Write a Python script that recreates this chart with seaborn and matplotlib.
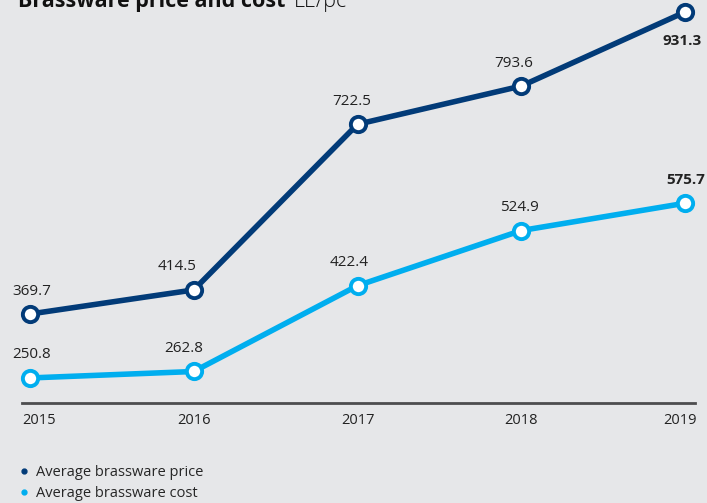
import matplotlib
matplotlib.use("Agg")
import matplotlib.pyplot as plt
import matplotlib.transforms as mtransforms
from matplotlib.lines import Line2D
import seaborn as sns
import pandas as pd

years = [2015, 2016, 2017, 2018, 2019]
price = [369.7, 414.5, 722.5, 793.6, 931.3]
cost = [250.8, 262.8, 422.4, 524.9, 575.7]
series_names = ["Average brassware price", "Average brassware cost"]
title_bold = "Brassware price and cost"
title_unit = "LE/pc"

# label nudges in pixels (style only)
price_dx = [2, -17, -6, -8, -3]
cost_dx = [2, -10, -8, -2, 1]

BG = "#e6e7e9"
C_PRICE = "#023b78"
C_COST = "#00aeef"

sns.set_style("white")
plt.rcParams["font.family"] = ["Open Sans", "DejaVu Sans"]

df = pd.DataFrame({
    "year": years * 2,
    "value": price + cost,
    "series": [series_names[0]] * len(years) + [series_names[1]] * len(years),
})

fig = plt.figure(figsize=(7.07, 5.03), dpi=100, facecolor=BG)
ax = fig.add_axes([22 / 707, 100 / 503, 673 / 707, 403 / 503])
ax.set_facecolor(BG)

sns.lineplot(data=df, x="year", y="value", hue="series",
             palette={series_names[0]: C_PRICE, series_names[1]: C_COST},
             linewidth=4, marker="o", markersize=11, markerfacecolor="white",
             markeredgewidth=2.8, legend=False, ax=ax, clip_on=False)
for line in ax.lines:
    line.set_markeredgecolor(line.get_color())
    line.set_clip_on(False)

px = 163.75
ax.set_xlim(2015 - 8 / px, 2019 + 10 / px)
sc = 0.5378
ax.set_ylim(369.7 - (403 - 314) / sc, 931.3 + 12 / sc)

for s in ["top", "right", "left"]:
    ax.spines[s].set_visible(False)
ax.spines["bottom"].set_color("#4d4d4f")
ax.spines["bottom"].set_linewidth(2)
ax.set_yticks([])
ax.set_xticks(years)
ax.set_xticklabels([str(y) for y in years])
ax.tick_params(axis="x", length=0, pad=7, labelsize=10.5, labelcolor="#222222")
labels = ax.get_xticklabels()
labels[0].set_ha("left")
labels[0].set_transform(labels[0].get_transform() + mtransforms.ScaledTranslation(-8 / 100, 0, fig.dpi_scale_trans))
labels[-1].set_ha("right")
labels[-1].set_transform(labels[-1].get_transform() + mtransforms.ScaledTranslation(12 / 100, 0, fig.dpi_scale_trans))
ax.set_xlabel("")
ax.set_ylabel("")

def lab(x, y, dy, bold=False, dx=0):
    ax.annotate(f"{y:.1f}", (x, y), xytext=(dx, dy), textcoords="offset pixels",
                ha="center", va="center", fontsize=11, color="#222222",
                fontweight="bold" if bold else "normal")

n = len(years)
for i, (x, y) in enumerate(zip(years, price)):
    if i == n - 1:
        lab(x, y, -29, bold=True, dx=price_dx[i])
    else:
        lab(x, y, 23, dx=price_dx[i])
for i, (x, y) in enumerate(zip(years, cost)):
    lab(x, y, 23, bold=(i == n - 1), dx=cost_dx[i])

t1 = fig.text(18 / 707, 1 - 7 / 503, title_bold, fontsize=15.5, fontweight="bold",
              ha="left", va="baseline", color="#111111")
fig.canvas.draw()
bb = t1.get_window_extent(renderer=fig.canvas.get_renderer())
fig.text((bb.x1 + 8) / 707, 1 - 7 / 503, title_unit, fontsize=15.5, fontweight="light",
         ha="left", va="baseline", color="#111111")

handles = [Line2D([], [], linestyle="none", marker="o", markersize=3.5, color=C_PRICE),
           Line2D([], [], linestyle="none", marker="o", markersize=3.5, color=C_COST)]
fig.legend(handles, series_names, loc="upper left", bbox_to_anchor=(20 / 707, 1 - 465 / 503),
           frameon=False, fontsize=10.5, handlelength=0.6, handletextpad=0.5,
           labelspacing=0.4, borderaxespad=0, borderpad=0)

fig.savefig("out.png", dpi=100, facecolor=BG)
